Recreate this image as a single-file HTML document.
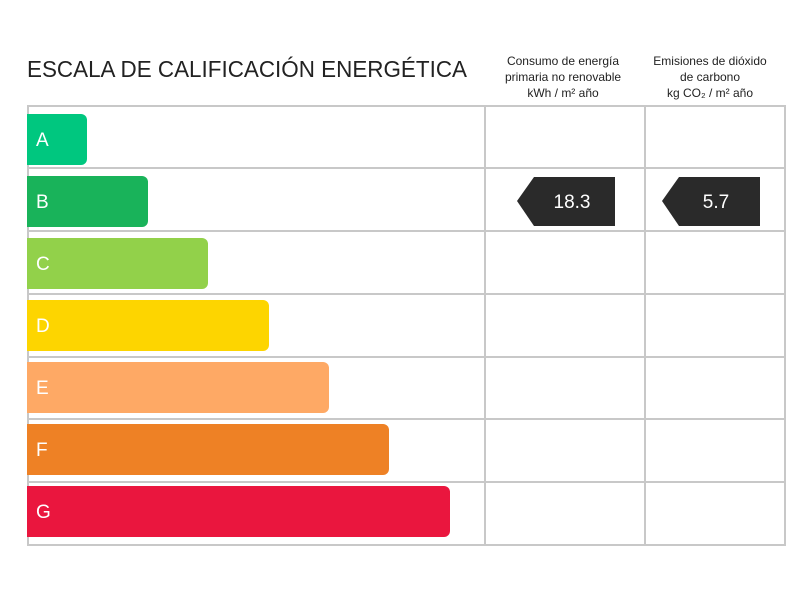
<!DOCTYPE html>
<html><head><style>body{margin:0;background:#fff}svg{display:block}text{font-family:"Liberation Sans",sans-serif}</style></head><body>
<svg width="800" height="600" xmlns="http://www.w3.org/2000/svg">
<text x="27" y="77" font-size="23" fill="#222" textLength="440" lengthAdjust="spacingAndGlyphs">ESCALA DE CALIFICACIÓN ENERGÉTICA</text>
<g font-size="12" fill="#222" text-anchor="middle">
<text x="563" y="65">Consumo de energía</text>
<text x="563" y="81">primaria no renovable</text>
<text x="563" y="97">kWh / m² año</text>
<text x="710" y="65">Emisiones de dióxido</text>
<text x="710" y="81">de carbono</text>
<text x="710" y="97">kg CO₂ / m² año</text>
</g>
<g stroke="#c8c8c8" stroke-width="2" fill="none">
<rect x="28" y="106" width="757" height="439"/>
<line x1="485" y1="106" x2="485" y2="545"/>
<line x1="645" y1="106" x2="645" y2="545"/>
<line x1="28" y1="168" x2="785" y2="168"/>
<line x1="28" y1="231" x2="785" y2="231"/>
<line x1="28" y1="294" x2="785" y2="294"/>
<line x1="28" y1="357" x2="785" y2="357"/>
<line x1="28" y1="419" x2="785" y2="419"/>
<line x1="28" y1="482" x2="785" y2="482"/>
</g>
<g>
<path d="M27 114H81a6 6 0 0 1 6 6V159a6 6 0 0 1-6 6H27Z" fill="#00c77f"/>
<path d="M27 176H142a6 6 0 0 1 6 6V221a6 6 0 0 1-6 6H27Z" fill="#19b35a"/>
<path d="M27 238H202a6 6 0 0 1 6 6V283a6 6 0 0 1-6 6H27Z" fill="#92d14a"/>
<path d="M27 300H263a6 6 0 0 1 6 6V345a6 6 0 0 1-6 6H27Z" fill="#fdd500"/>
<path d="M27 362H323a6 6 0 0 1 6 6V407a6 6 0 0 1-6 6H27Z" fill="#fea965"/>
<path d="M27 424H383a6 6 0 0 1 6 6V469a6 6 0 0 1-6 6H27Z" fill="#ee8125"/>
<path d="M27 486H444a6 6 0 0 1 6 6V531a6 6 0 0 1-6 6H27Z" fill="#ea163e"/>
</g>
<g fill="#fff" font-size="19">
<text x="36" y="146">A</text><text x="36" y="208">B</text><text x="36" y="270">C</text>
<text x="36" y="332">D</text><text x="36" y="394">E</text><text x="36" y="456">F</text><text x="36" y="518">G</text>
</g>
<path d="M517 201L534 177H615V226H534Z" fill="#2a2a2a"/>
<path d="M662 201L679 177H760V226H679Z" fill="#2a2a2a"/>
<g fill="#fff" font-size="19" text-anchor="middle">
<text x="572" y="208">18.3</text><text x="716" y="208">5.7</text>
</g>
</svg>
</body></html>
